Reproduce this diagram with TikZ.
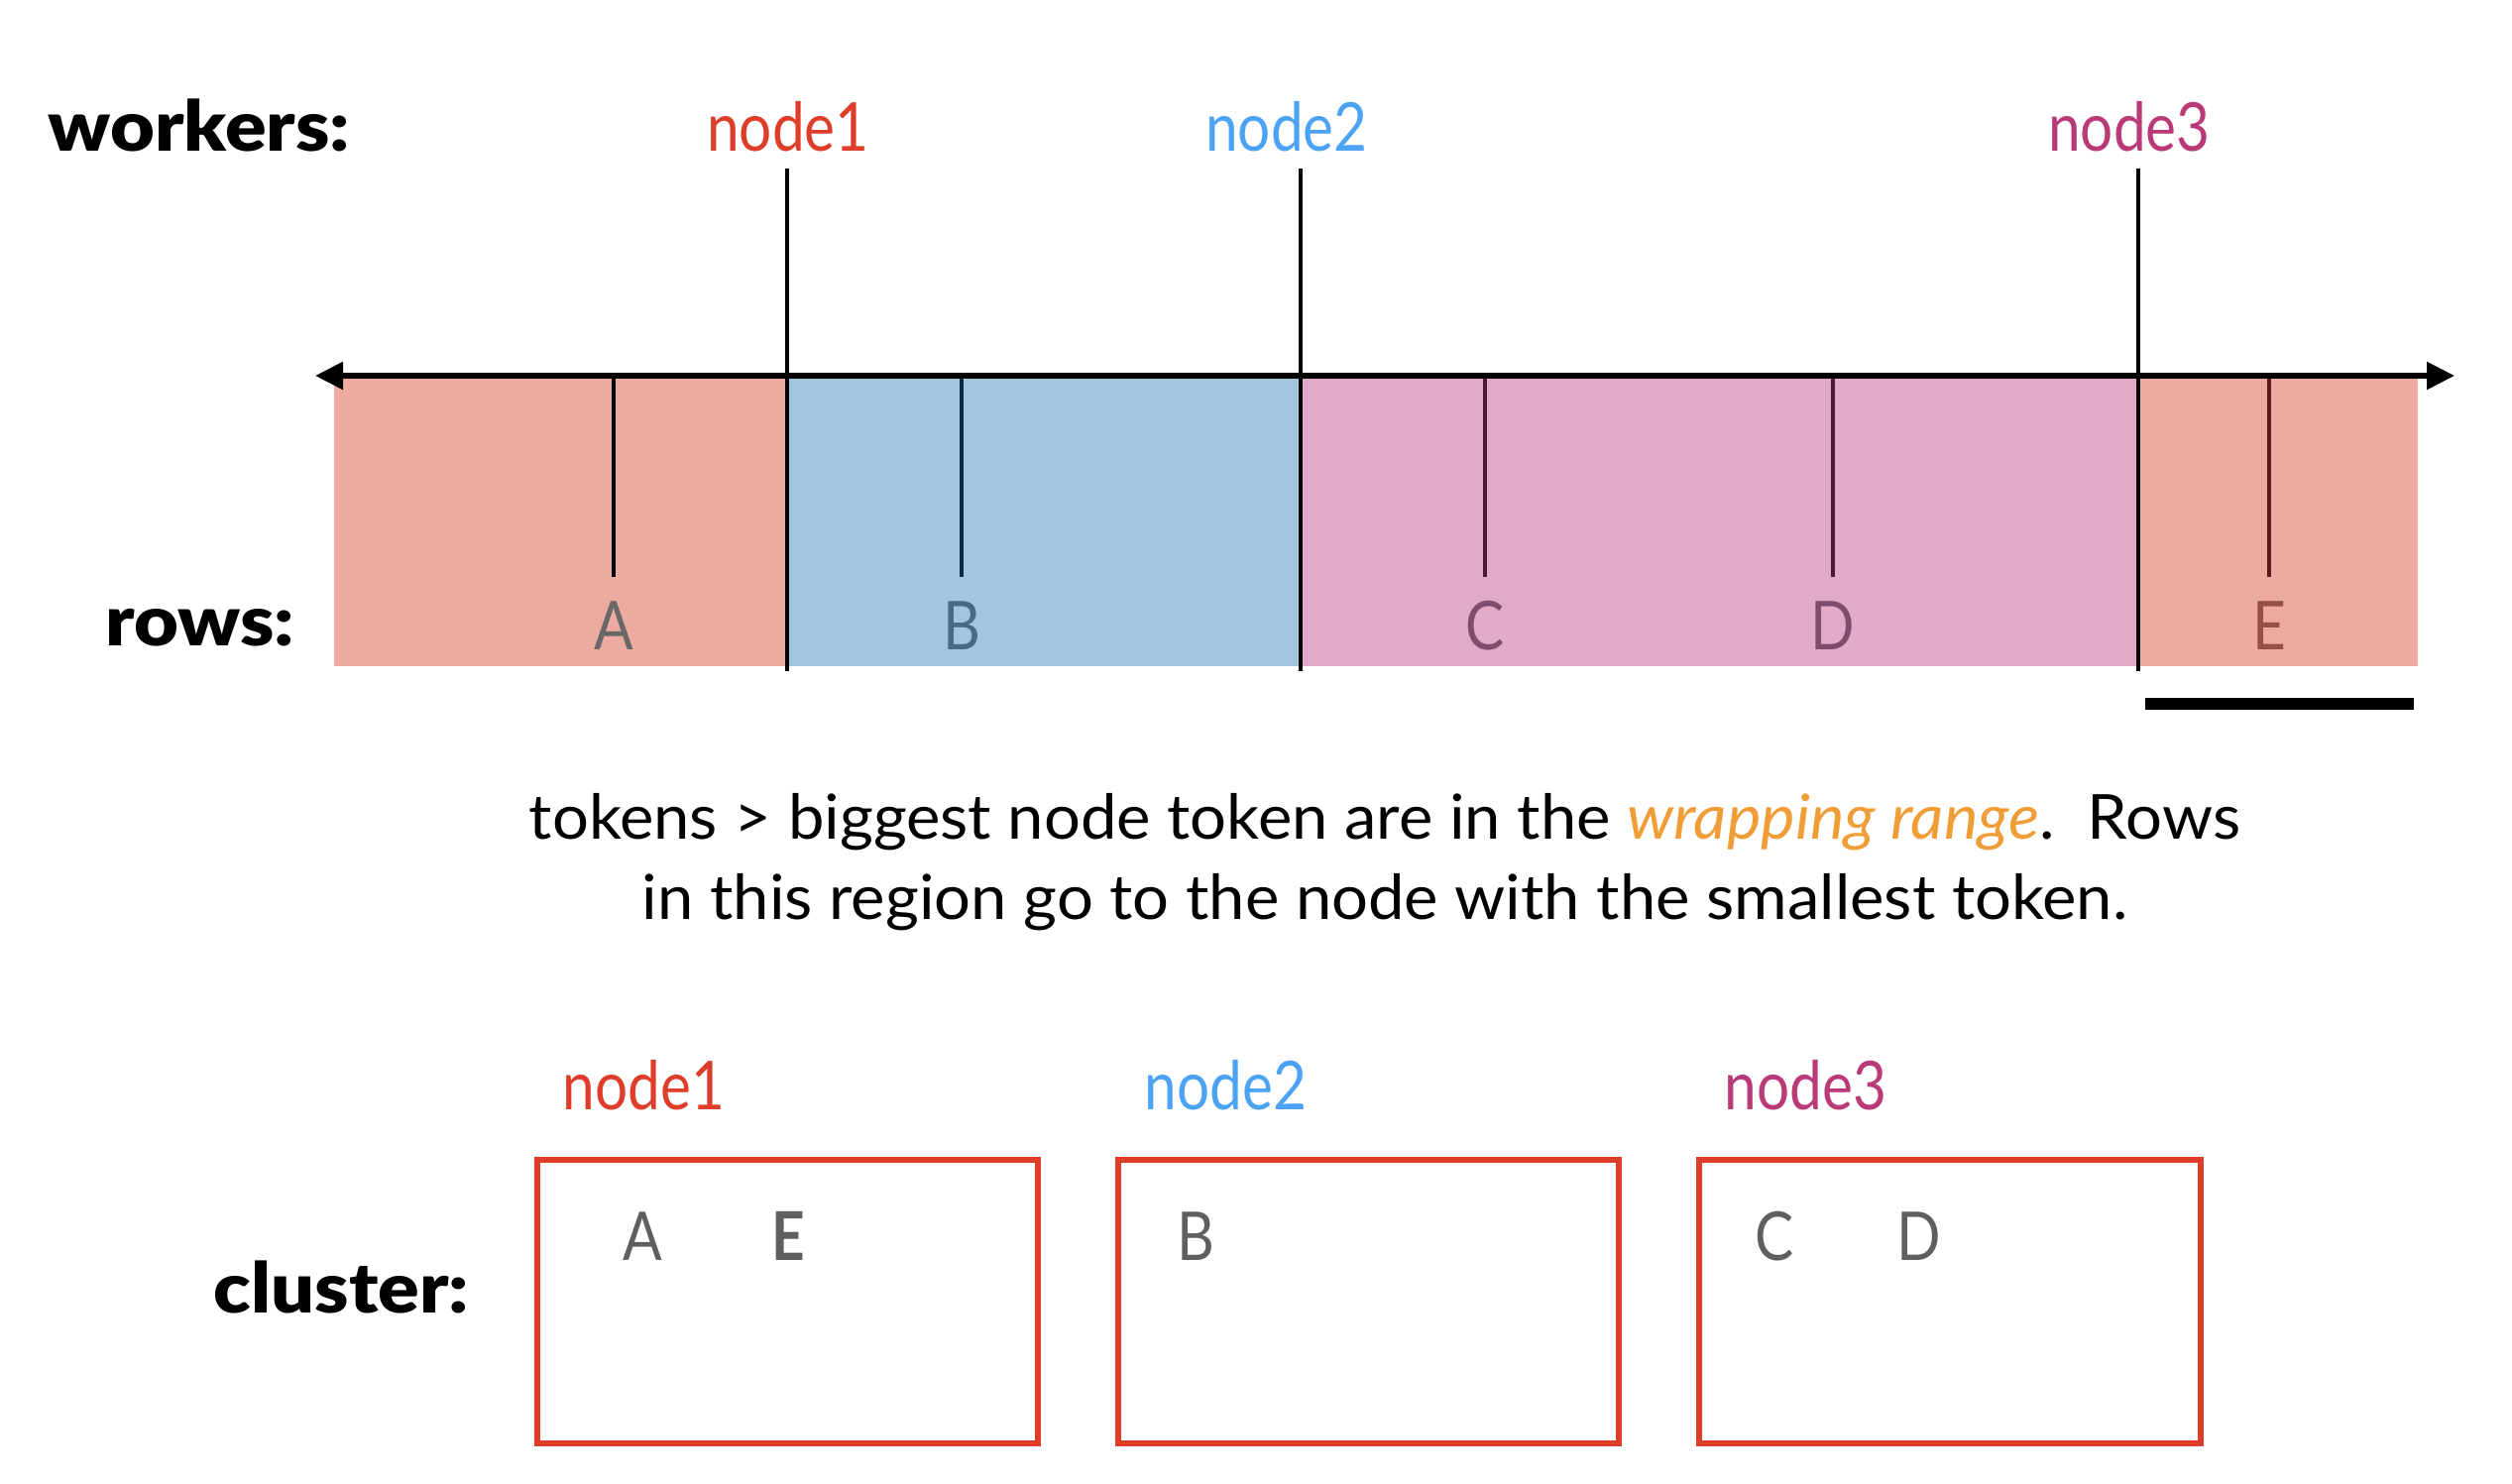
\documentclass[tikz,border=0pt]{standalone}
\usepackage{fontspec}
\setmainfont{Lato}[FakeStretch=0.86]
\newfontfamily\bodyf{Lato}[FakeStretch=1.04]
\IfFontExistsTF{Lato Black}
  {\newfontfamily\boldlab{Lato Black}[FakeStretch=1.1]}
  {\newfontfamily\boldlab{Lato}[FakeStretch=1.2,FakeBold=1.5]}
\usetikzlibrary{arrows.meta}
\definecolor{redA}{RGB}{222,61,42}
\definecolor{blueB}{RGB}{76,163,245}
\definecolor{magC}{RGB}{186,58,120}
\definecolor{bandR}{RGB}{236,170,160}
\definecolor{bandB}{RGB}{163,198,224}
\definecolor{bandP}{RGB}{225,171,200}
\definecolor{ltrA}{RGB}{104,104,104}
\definecolor{ltrB}{RGB}{71,106,133}
\definecolor{ltrC}{RGB}{126,76,108}
\definecolor{ltrE}{RGB}{150,80,70}
\definecolor{tkB}{RGB}{15,40,60}
\definecolor{tkC}{RGB}{75,25,55}
\definecolor{tkE}{RGB}{90,25,20}
\definecolor{orng}{RGB}{240,157,55}
\definecolor{gry}{RGB}{95,95,95}
\begin{document}
\begin{tikzpicture}[x=0.01cm,y=-0.01cm,
  lab/.style={inner sep=0pt, anchor=base, font=\fontsize{19.35pt}{22pt}\selectfont},
  head/.style={inner sep=0pt, anchor=base west, font=\boldlab\fontsize{20pt}{24pt}\selectfont},
  body/.style={inner sep=0pt, anchor=base, font=\bodyf\fontsize{17.8pt}{21pt}\selectfont},
  wline/.style={line width=1.3pt, black},
  tick/.style={line width=1.1pt},
  box/.style={draw=redA, line width=1.7pt, minimum width=5.05cm, minimum height=2.86cm, inner sep=0pt},
  axis/.style={line width=1.6pt, {Triangle[length=0.28cm,width=0.27cm]}-{Triangle[length=0.28cm,width=0.27cm]}}
]
\useasboundingbox (0,0) rectangle (2534,1496);
% bands
\fill[bandR] (337,379) rectangle (794,672);
\fill[bandB] (794,379) rectangle (1312,672);
\fill[bandP] (1312,379) rectangle (2157,672);
\fill[bandR] (2157,379) rectangle (2439,672);
% ticks
\coordinate (tA1) at (619,379); \coordinate (tA2) at (619,582);
\coordinate (tB1) at (970,379); \coordinate (tB2) at (970,582);
\coordinate (tC1) at (1498,379); \coordinate (tC2) at (1498,582);
\coordinate (tD1) at (1849,379); \coordinate (tD2) at (1849,582);
\coordinate (tE1) at (2289,379); \coordinate (tE2) at (2289,582);
\draw[tick, black] (tA1) -- (tA2);
\draw[tick, tkB] (tB1) -- (tB2);
\draw[tick, tkC] (tC1) -- (tC2);
\draw[tick, tkC] (tD1) -- (tD2);
\draw[tick, tkE] (tE1) -- (tE2);
% row letters
\node[lab, ltrA] (rA) at (619,655) {A};
\node[lab, ltrB] (rB) at (970,655) {B};
\node[lab, ltrC] (rC) at (1498,655) {C};
\node[lab, ltrC] (rD) at (1849,655) {D};
\node[lab, ltrE] (rE) at (2289,655) {E};
% worker lines
\coordinate (n1t) at (794,170); \coordinate (n1b) at (794,677);
\coordinate (n2t) at (1312,170); \coordinate (n2b) at (1312,677);
\coordinate (n3t) at (2157,170); \coordinate (n3b) at (2157,677);
\draw[wline] (n1t) -- (n1b);
\draw[wline] (n2t) -- (n2b);
\draw[wline] (n3t) -- (n3b);
% axis
\coordinate (al) at (318,379); \coordinate (ar) at (2476,379);
\draw[axis] (al) -- (ar);
% labels
\node[head] (workers) at (48,152) {workers:};
\node[head] (rows) at (106,651) {rows:};
\node[head] (cluster) at (215,1324) {cluster:};
\node[lab, redA] (w1) at (795,152) {node1};
\node[lab, blueB] (w2) at (1298,152) {node2};
\node[lab, magC] (w3) at (2148,152) {node3};
% wrap bar
\fill[black] (2164,704) rectangle (2435,716);
% body text
\node[body] (t1) at (1397,846) {tokens > biggest node token are in the \textcolor{orng}{\itshape wrapping range}.\ \ Rows};
\node[body] (t2) at (1397,927) {in this region go to the node with the smallest token.};
% cluster boxes
\node[lab, anchor=base west, redA] (c1) at (567,1119) {node1};
\node[lab, anchor=base west, blueB] (c2) at (1154,1119) {node2};
\node[lab, anchor=base west, magC] (c3) at (1739,1119) {node3};
\node[box] (b1) at (794.5,1313) {};
\node[box] (b2) at (1380.5,1313) {};
\node[box] (b3) at (1967,1313) {};
\node[lab, gry] (bA) at (648,1271) {A};
\node[lab, gry, font=\bfseries\fontsize{19.35pt}{22pt}\selectfont] (bE) at (795,1271) {E};
\node[lab, gry] (bB) at (1206,1271) {B};
\node[lab, gry] (bC) at (1790,1271) {C};
\node[lab, gry] (bD) at (1936,1271) {D};
\end{tikzpicture}
\end{document}
